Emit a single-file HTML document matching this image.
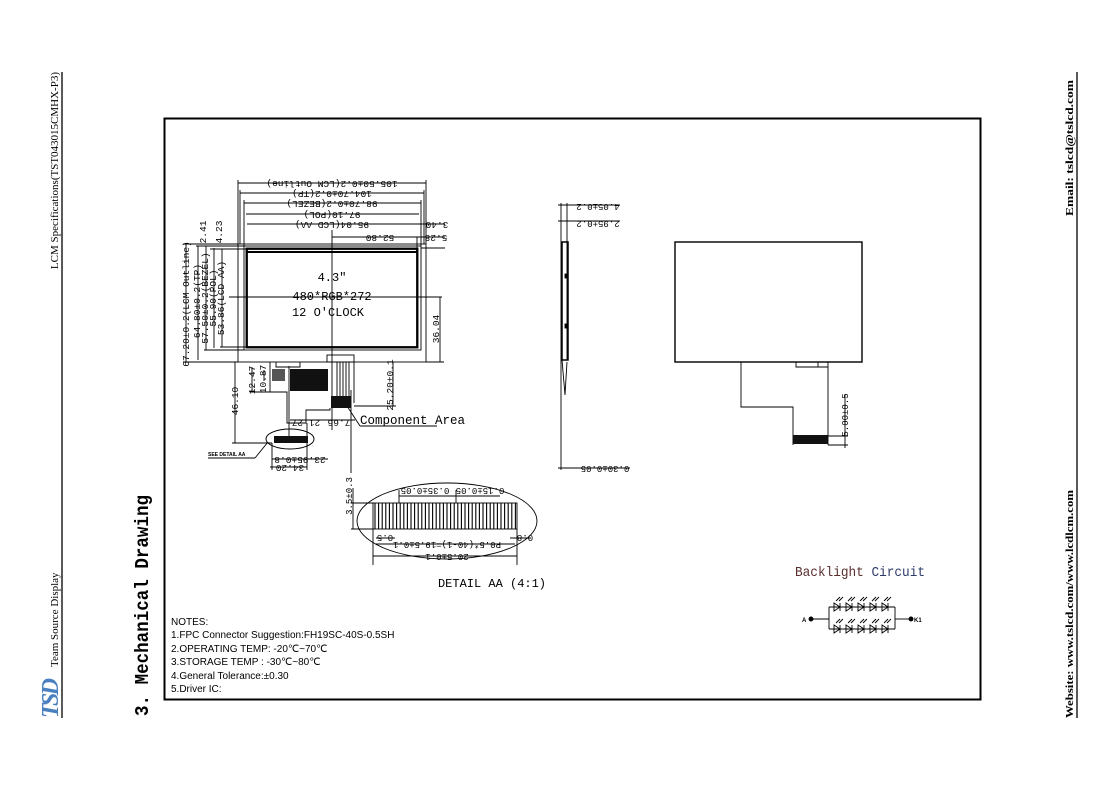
<!DOCTYPE html>
<html><head><meta charset="utf-8"><style>
html,body{margin:0;padding:0;background:#fff;}
svg{display:block;}
.m{font-family:"Liberation Mono",monospace;}
.s{font-family:"Liberation Sans",sans-serif;}
.r{font-family:"Liberation Serif",serif;}
</style></head><body>
<svg width="1109" height="790" viewBox="0 0 1109 790" xmlns="http://www.w3.org/2000/svg">
<rect width="1109" height="790" fill="#fff"/>
<line x1="62" y1="72" x2="62" y2="718" stroke="#000" stroke-width="1.3"/>
<text class="r" font-size="11" transform="translate(58,72) rotate(-90)" text-anchor="end">LCM Specifications(TST043015CMHX-P3)</text>
<text class="r" font-size="11" transform="translate(58,667) rotate(-90)">Team Source Display</text>
<g transform="translate(58,718) rotate(-90)">
<text class="r" font-size="24" font-weight="bold" font-style="italic" fill="#4a7fc0" x="0" y="0" textLength="40">TSD</text>
</g>
<text class="m" font-size="19" font-weight="bold" transform="translate(148,716) rotate(-90)" textLength="221" lengthAdjust="spacingAndGlyphs">3. Mechanical Drawing</text>
<line x1="1077" y1="72" x2="1077" y2="718" stroke="#000" stroke-width="1.3"/>
<text class="r" font-size="10" font-weight="bold" transform="translate(1073,216) rotate(-90)" textLength="136" lengthAdjust="spacingAndGlyphs">Email:  tslcd@tslcd.com</text>
<text class="r" font-size="10" font-weight="bold" transform="translate(1073,718) rotate(-90)" textLength="228" lengthAdjust="spacingAndGlyphs">Website:  www.tslcd.com/www.lcdlcm.com</text>
<rect x="164.5" y="118.5" width="816" height="581" fill="none" stroke="#000" stroke-width="2"/>

<g stroke="#000" fill="none" stroke-width="0.9">
<rect x="238" y="244" width="188" height="118"/>
<rect x="244" y="246" width="177" height="104"/>
<rect x="246" y="248" width="172" height="100"/>
<rect x="247" y="249" width="170" height="98" stroke-width="1.8"/>
<line x1="247" y1="252" x2="417" y2="252" stroke-width="2"/>
<line x1="332" y1="230" x2="332" y2="430"/>
<line x1="229" y1="297" x2="442" y2="297"/>
<line x1="238" y1="183" x2="426" y2="183"/><line x1="238" y1="180" x2="238" y2="244"/><line x1="426" y1="180" x2="426" y2="244"/>
<line x1="240" y1="193" x2="424" y2="193"/><line x1="240" y1="190" x2="240" y2="244"/><line x1="424" y1="190" x2="424" y2="244"/>
<line x1="244" y1="203" x2="421" y2="203"/><line x1="244" y1="200" x2="244" y2="246"/><line x1="421" y1="200" x2="421" y2="246"/>
<line x1="246" y1="214" x2="419" y2="214"/>
<line x1="247" y1="224" x2="417" y2="224"/>
<line x1="417" y1="224" x2="445" y2="224"/><line x1="426" y1="221" x2="426" y2="230"/>
<line x1="332" y1="237" x2="445" y2="237"/><line x1="417" y1="237" x2="417" y2="248"/>
<line x1="421" y1="248" x2="445" y2="248"/>
<line x1="186" y1="244" x2="186" y2="362"/><line x1="183" y1="244" x2="238" y2="244"/><line x1="183" y1="362" x2="238" y2="362"/>
<line x1="198" y1="246" x2="198" y2="360"/>
<line x1="206" y1="246" x2="206" y2="350"/><line x1="204" y1="350" x2="244" y2="350"/>
<line x1="214" y1="248" x2="214" y2="348"/>
<line x1="222" y1="249" x2="222" y2="347"/><line x1="220" y1="347" x2="247" y2="347"/>
<line x1="196" y1="246" x2="246" y2="246"/><line x1="210" y1="249" x2="247" y2="249"/>
<line x1="440" y1="297" x2="440" y2="362"/><line x1="426" y1="362" x2="444" y2="362"/>
<rect x="327" y="355" width="27" height="7"/>
<line x1="337" y1="362" x2="337" y2="397"/><line x1="340" y1="362" x2="340" y2="397"/><line x1="343" y1="362" x2="343" y2="397"/><line x1="346" y1="362" x2="346" y2="397"/><line x1="349" y1="362" x2="349" y2="397"/>
<path d="M276 362 V367 H300 V362"/>
<path d="M270 362 V392 H287 V423 H306 V410 H330 V408"/>
<path d="M289 366 V440 M307 423 V440"/>
<line x1="354" y1="362" x2="354" y2="403"/>
<line x1="235" y1="362" x2="235" y2="443"/><line x1="232" y1="443" x2="272" y2="443"/>
<line x1="252" y1="367" x2="252" y2="392"/><line x1="264" y1="370" x2="264" y2="381"/>
<line x1="250" y1="392" x2="270" y2="392"/>
<line x1="393" y1="362" x2="393" y2="406"/><line x1="354" y1="406" x2="396" y2="406"/>
<line x1="290" y1="420" x2="355" y2="420"/>
<line x1="347" y1="406" x2="360" y2="426"/>
<line x1="360" y1="426" x2="437" y2="426"/>
<line x1="351" y1="390" x2="351" y2="473"/>
<line x1="272" y1="459" x2="328" y2="459"/><line x1="270" y1="467" x2="307" y2="467"/>
<line x1="272" y1="443" x2="272" y2="470"/><line x1="307" y1="443" x2="307" y2="470"/>
<ellipse cx="290" cy="439" rx="24" ry="10"/>
<line x1="208" y1="458" x2="255" y2="458"/><line x1="255" y1="458" x2="268" y2="442"/>
</g>
<rect x="272" y="369" width="13" height="12" fill="#555"/>
<rect x="290" y="369" width="38" height="22" fill="#111"/>
<rect x="331" y="396" width="20" height="12" fill="#111"/>
<rect x="274" y="436" width="34" height="7" fill="#111"/>
<g class="m" font-size="9.5" fill="#000">
<text x="332" y="281" text-anchor="middle" font-size="12">4.3"</text>
<text x="332" y="300" text-anchor="middle" font-size="12">480*RGB*272</text>
<text x="328" y="316" text-anchor="middle" font-size="12">12 O'CLOCK</text>
<text transform="rotate(180,332,185)" x="332" y="189" text-anchor="middle">105.50±0.2(LCM Outline)</text>
<text transform="rotate(180,332,195)" x="332" y="199" text-anchor="middle">104.70±0.2(TP)</text>
<text transform="rotate(180,332,205)" x="332" y="209" text-anchor="middle">98.70±0.2(BEZEL)</text>
<text transform="rotate(180,332,216)" x="332" y="220" text-anchor="middle">97.10(POL)</text>
<text transform="rotate(180,332,226)" x="332" y="230" text-anchor="middle">95.04(LCD AA)</text>
<text transform="rotate(180,437,226)" x="437" y="230" text-anchor="middle">3.40</text>
<text transform="rotate(180,380,239)" x="380" y="243" text-anchor="middle">52.80</text>
<text transform="rotate(180,436,239)" x="436" y="243" text-anchor="middle">5.28</text>
<text transform="translate(189,304) rotate(-90)" text-anchor="middle">67.20±0.2(LCM Outline)</text>
<text transform="translate(200,301) rotate(-90)" text-anchor="middle">64.80±0.2(TP)</text>
<text transform="translate(208,298) rotate(-90)" text-anchor="middle">57.50±0.2(BEZEL)</text>
<text transform="translate(216,298) rotate(-90)" text-anchor="middle">55.90(POL)</text>
<text transform="translate(224,298) rotate(-90)" text-anchor="middle">53.86(LCD AA)</text>
<text transform="translate(206,232) rotate(-90)" text-anchor="middle">2.41</text>
<text transform="translate(222,232) rotate(-90)" text-anchor="middle">4.23</text>
<text transform="translate(439,329) rotate(-90)" text-anchor="middle">36.04</text>
<text transform="translate(238,401) rotate(-90)" text-anchor="middle">46.10</text>
<text transform="translate(255,380) rotate(-90)" text-anchor="middle">12.47</text>
<text transform="translate(266,379) rotate(-90)" text-anchor="middle">10.87</text>
<text transform="translate(393,385) rotate(-90)" text-anchor="middle">25.20±0.1</text>
<text transform="rotate(180,306,424)" x="306" y="428" text-anchor="middle">21.27</text>
<text transform="rotate(180,339,424)" x="339" y="428" text-anchor="middle">7.66</text>
<text transform="rotate(180,300,461)" x="300" y="465" text-anchor="middle">23.95±0.8</text>
<text transform="rotate(180,290,469)" x="290" y="473" text-anchor="middle">34.20</text>
<text x="360" y="424" font-size="12.5">Component Area</text>
</g>
<text class="s" x="208" y="456" font-size="5" font-weight="bold">SEE DETAIL AA</text>

<g stroke="#000" fill="none" stroke-width="0.9">
<ellipse cx="447" cy="521" rx="90" ry="38"/>
<rect x="373" y="503" width="144" height="26"/>
<line x1="351" y1="503" x2="373" y2="503"/><line x1="351" y1="529" x2="373" y2="529"/><line x1="353" y1="488" x2="353" y2="529"/>
<line x1="373" y1="529" x2="373" y2="565"/><line x1="517" y1="529" x2="517" y2="565"/>
<line x1="376" y1="544" x2="515" y2="544"/><line x1="373" y1="556" x2="517" y2="556"/>
<line x1="376" y1="538" x2="395" y2="538"/><line x1="510" y1="538" x2="530" y2="538"/>
<line x1="399" y1="490" x2="399" y2="503"/><line x1="456" y1="490" x2="456" y2="503"/>
<line x1="399" y1="496" x2="456" y2="496"/><line x1="456" y1="496" x2="500" y2="496"/>
</g>
<g stroke="#000" stroke-width="1.1">
<line x1="375" y1="503" x2="375" y2="529"/><line x1="378.6" y1="503" x2="378.6" y2="529"/><line x1="382.2" y1="503" x2="382.2" y2="529"/><line x1="385.8" y1="503" x2="385.8" y2="529"/><line x1="389.4" y1="503" x2="389.4" y2="529"/><line x1="393" y1="503" x2="393" y2="529"/><line x1="396.6" y1="503" x2="396.6" y2="529"/><line x1="400.2" y1="503" x2="400.2" y2="529"/><line x1="403.8" y1="503" x2="403.8" y2="529"/><line x1="407.4" y1="503" x2="407.4" y2="529"/><line x1="411" y1="503" x2="411" y2="529"/><line x1="414.6" y1="503" x2="414.6" y2="529"/><line x1="418.2" y1="503" x2="418.2" y2="529"/><line x1="421.8" y1="503" x2="421.8" y2="529"/><line x1="425.4" y1="503" x2="425.4" y2="529"/><line x1="429" y1="503" x2="429" y2="529"/><line x1="432.6" y1="503" x2="432.6" y2="529"/><line x1="436.2" y1="503" x2="436.2" y2="529"/><line x1="439.8" y1="503" x2="439.8" y2="529"/><line x1="443.4" y1="503" x2="443.4" y2="529"/><line x1="447" y1="503" x2="447" y2="529"/><line x1="450.6" y1="503" x2="450.6" y2="529"/><line x1="454.2" y1="503" x2="454.2" y2="529"/><line x1="457.8" y1="503" x2="457.8" y2="529"/><line x1="461.4" y1="503" x2="461.4" y2="529"/><line x1="465" y1="503" x2="465" y2="529"/><line x1="468.6" y1="503" x2="468.6" y2="529"/><line x1="472.2" y1="503" x2="472.2" y2="529"/><line x1="475.8" y1="503" x2="475.8" y2="529"/><line x1="479.4" y1="503" x2="479.4" y2="529"/><line x1="483" y1="503" x2="483" y2="529"/><line x1="486.6" y1="503" x2="486.6" y2="529"/><line x1="490.2" y1="503" x2="490.2" y2="529"/><line x1="493.8" y1="503" x2="493.8" y2="529"/><line x1="497.4" y1="503" x2="497.4" y2="529"/><line x1="501" y1="503" x2="501" y2="529"/><line x1="504.6" y1="503" x2="504.6" y2="529"/><line x1="508.2" y1="503" x2="508.2" y2="529"/><line x1="511.8" y1="503" x2="511.8" y2="529"/><line x1="515.4" y1="503" x2="515.4" y2="529"/>
</g>
<g class="m" font-size="9" fill="#000">
<text transform="translate(352,496) rotate(-90)" text-anchor="middle">3.5±0.3</text>
<text transform="rotate(180,425,492)" x="425" y="496" text-anchor="middle">0.35±0.05</text>
<text transform="rotate(180,480,492)" x="480" y="496" text-anchor="middle">0.15±0.05</text>
<text transform="rotate(180,385,539)" x="385" y="543" text-anchor="middle">0.5</text>
<text transform="rotate(180,525,539)" x="525" y="543" text-anchor="middle">0.8</text>
<text transform="rotate(180,447,546)" x="447" y="550" text-anchor="middle">P0.5*(40-1)=19.5±0.1</text>
<text transform="rotate(180,447,558)" x="447" y="562" text-anchor="middle">20.5±0.1</text>
<text x="492" y="587" text-anchor="middle" font-size="12">DETAIL AA (4:1)</text>
</g>

<g stroke="#000" fill="none" stroke-width="0.9">
<line x1="561" y1="203" x2="561" y2="470"/><line x1="567" y1="203" x2="567" y2="360"/>
<line x1="558" y1="205" x2="620" y2="205"/><line x1="558" y1="221" x2="620" y2="221"/>
<rect x="562" y="242" width="6" height="118" stroke-width="1.5"/>
<path d="M562 360 L565 395 L567 362"/>
<line x1="558" y1="468" x2="630" y2="468"/>
<rect x="565" y="274" width="3" height="4" fill="#000"/>
<rect x="565" y="324" width="3" height="4" fill="#000"/>
</g>
<g class="m" font-size="9" fill="#000">
<text transform="rotate(180,598,208)" x="598" y="212" text-anchor="middle">4.05±0.2</text>
<text transform="rotate(180,598,225)" x="598" y="229" text-anchor="middle">2.95±0.2</text>
<text transform="rotate(180,605,470)" x="605" y="474" text-anchor="middle">0.30±0.05</text>
</g>

<g stroke="#000" fill="none" stroke-width="0.9">
<rect x="675" y="242" width="187" height="120" stroke-width="1.4"/>
<path d="M741 362 V407 H793 V445"/>
<path d="M828 362 V445"/>
<path d="M796 362 V367 H828 M818 362 V367"/>
<line x1="828" y1="436" x2="848" y2="436"/><line x1="828" y1="445" x2="848" y2="445"/>
<line x1="845" y1="395" x2="845" y2="448"/>
</g>
<rect x="793" y="435" width="35" height="9" fill="#111"/>
<text class="m" font-size="9" transform="translate(848,415) rotate(-90)" text-anchor="middle">5.00±0.5</text>

<text class="m" x="795" y="576" font-size="14" fill="#5a2e2e" textLength="130" lengthAdjust="spacingAndGlyphs">Backlight <tspan fill="#2e3a6a">Circuit</tspan></text>
<g stroke="#000" fill="none" stroke-width="0.9">
<circle cx="811" cy="619" r="2" fill="#000"/><circle cx="911" cy="619" r="2" fill="#000"/>
<line x1="811" y1="619" x2="829" y2="619"/><line x1="895" y1="619" x2="911" y2="619"/>
<path d="M829 607 V629 M895 607 V629 M829 607 H895 M829 629 H895"/>
<g id="d"><path d="M834 603 V611 L840 607 Z M840 603 V611"/><path d="M836 601 l4 -4 M839 601 l4 -4"/></g>
<use href="#d" x="12"/><use href="#d" x="24"/><use href="#d" x="36"/><use href="#d" x="48"/>
<use href="#d" y="22"/><use href="#d" x="12" y="22"/><use href="#d" x="24" y="22"/><use href="#d" x="36" y="22"/><use href="#d" x="48" y="22"/>
</g>
<text class="s" x="802" y="622" font-size="6" font-weight="bold">A</text>
<text class="s" x="914" y="622" font-size="6" font-weight="bold">K1</text>

<g class="s" font-size="10" fill="#000">
<text x="171" y="625">NOTES:</text>
<text x="171" y="638">1.FPC Connector Suggestion:FH19SC-40S-0.5SH</text>
<text x="171" y="652">2.OPERATING TEMP:  -20℃~70℃</text>
<text x="171" y="665">3.STORAGE TEMP :  -30℃~80℃</text>
<text x="171" y="679">4.General Tolerance:±0.30</text>
<text x="171" y="692">5.Driver IC:</text>
</g>
</svg>
</body></html>
